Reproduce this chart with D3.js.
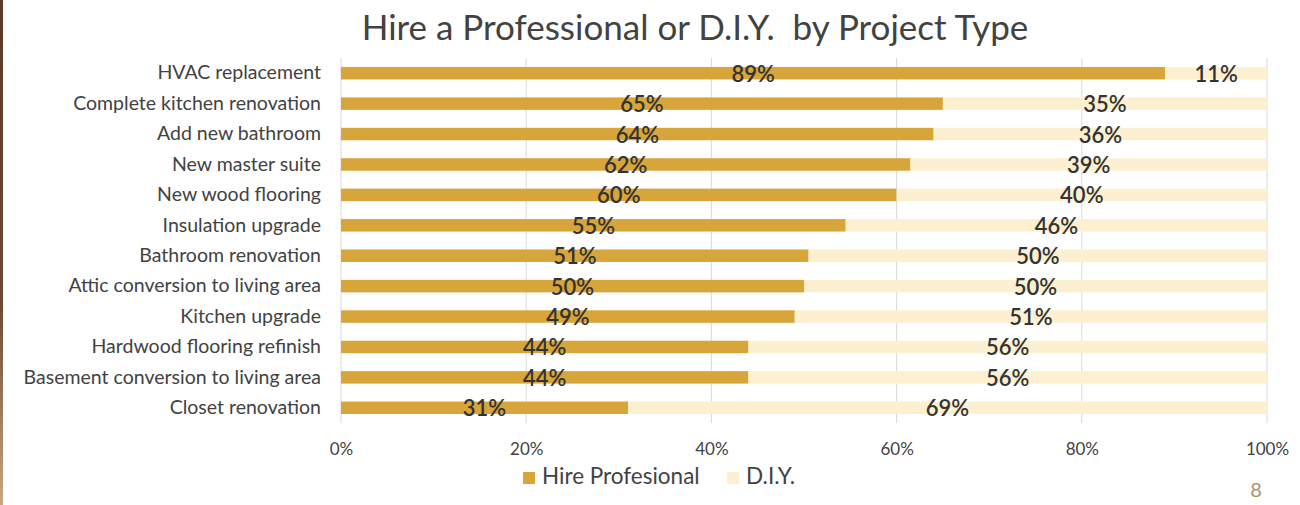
<!DOCTYPE html>
<html>
<head>
<meta charset="utf-8">
<script src="https://cdn.jsdelivr.net/npm/d3@7"></script>
<style>
  html, body { margin: 0; padding: 0; background: #ffffff; }
  svg { display: block; }
  text { font-family: "Lato", "Noto Sans", sans-serif; }
</style>
</head>
<body>
<svg id="chart" width="1300" height="505"></svg>
<script>
const categories = [
  "HVAC replacement",
  "Complete kitchen renovation",
  "Add new bathroom",
  "New master suite",
  "New wood flooring",
  "Insulation upgrade",
  "Bathroom renovation",
  "Attic conversion to living area",
  "Kitchen upgrade",
  "Hardwood flooring refinish",
  "Basement conversion to living area",
  "Closet renovation"
];
const hireValues = [89, 65, 64, 61.5, 60, 54.5, 50.5, 50, 49, 44, 44, 31];
const diyValues  = [11, 35, 36, 38.5, 40, 45.5, 49.5, 50, 51, 56, 56, 69];
const seriesNames = ["Hire Profesional", "D.I.Y."];
const tickValues = [0, 20, 40, 60, 80, 100];
const titleText = "Hire a Professional or D.I.Y.  by Project Type";
const pageNumber = "8";

const colors = { hire: "#D8A53A", diy: "#FCF0D1" };
const textColor = "#424242";

const svg = d3.select("#chart");
const margin = { left: 341, right: 33, top: 58, bottom: 82 };
const W = 1300, H = 505;

// slide edge decoration
const grad = svg.append("defs").append("linearGradient")
  .attr("id", "edge").attr("x1", 0).attr("x2", 0).attr("y1", 0).attr("y2", 1);
grad.append("stop").attr("offset", "0%").attr("stop-color", "#5a3a2a");
grad.append("stop").attr("offset", "60%").attr("stop-color", "#6b4a35");
grad.append("stop").attr("offset", "100%").attr("stop-color", "#c9a684");
svg.append("rect").attr("x", 0).attr("y", 0).attr("width", 3).attr("height", H)
  .attr("fill", "url(#edge)");

const x = d3.scaleLinear().domain([0, 100]).range([margin.left, W - margin.right]);
const y = d3.scaleBand().domain(categories)
  .range([margin.top, H - margin.bottom])
  .paddingInner(0.59).paddingOuter(0.295);

// title
svg.append("text")
  .attr("x", 695).attr("y", 40)
  .attr("text-anchor", "middle")
  .attr("font-size", 35)
  .attr("fill", textColor)
  .style("white-space", "pre")
  .attr("xml:space", "preserve")
  .text(titleText);

// gridlines
svg.append("g").selectAll("line")
  .data(tickValues)
  .join("line")
  .attr("x1", d => x(d)).attr("x2", d => x(d))
  .attr("y1", margin.top).attr("y2", H - margin.bottom)
  .attr("stroke", "#d9d9d9").attr("stroke-width", 1);

// x axis labels
const xAxis = d3.axisBottom(x).tickValues(tickValues).tickFormat(d => d + "%").tickSize(0).tickPadding(0);
const gx = svg.append("g").attr("transform", `translate(0,${H - margin.bottom})`).call(xAxis);
gx.select(".domain").remove();
gx.selectAll("text").attr("font-size", 17).attr("fill", textColor)
  .attr("y", 32).attr("dy", 0)
  .attr("font-family", "Lato, 'Noto Sans', sans-serif");

// y axis labels
const yAxis = d3.axisLeft(y).tickSize(0).tickPadding(20);
const gy = svg.append("g").attr("transform", `translate(${margin.left},0)`).call(yAxis);
gy.select(".domain").remove();
gy.selectAll("text").attr("font-size", 19.5).attr("fill", textColor)
  .attr("font-family", "Lato, 'Noto Sans', sans-serif");

// bars
const rows = categories.map((c, i) => ({ cat: c, hire: hireValues[i], diy: diyValues[i] }));
const bars = svg.append("g");
bars.selectAll("rect.hire").data(rows).join("rect")
  .attr("class", "hire")
  .attr("x", x(0))
  .attr("y", d => y(d.cat))
  .attr("width", d => x(d.hire) - x(0))
  .attr("height", y.bandwidth())
  .attr("fill", colors.hire);
bars.selectAll("rect.diy").data(rows).join("rect")
  .attr("class", "diy")
  .attr("x", d => x(d.hire))
  .attr("y", d => y(d.cat))
  .attr("width", d => x(d.hire + d.diy) - x(d.hire))
  .attr("height", y.bandwidth())
  .attr("fill", colors.diy);

// data labels
const labels = svg.append("g").attr("font-size", 22).attr("fill", "#333333").attr("font-weight", 600);
labels.selectAll("text.h").data(rows).join("text")
  .attr("class", "h")
  .attr("x", d => (x(0) + x(d.hire)) / 2)
  .attr("y", d => y(d.cat) + y.bandwidth() / 2 + 8.5)
  .attr("text-anchor", "middle")
  .text(d => Math.round(d.hire) + "%");
labels.selectAll("text.d").data(rows).join("text")
  .attr("class", "d")
  .attr("x", d => (x(d.hire) + x(d.hire + d.diy)) / 2)
  .attr("y", d => y(d.cat) + y.bandwidth() / 2 + 8.5)
  .attr("text-anchor", "middle")
  .text(d => Math.round(d.diy) + "%");

// legend
const legend = svg.append("g");
const legendItems = [
  { name: seriesNames[0], color: colors.hire, x: 523 },
  { name: seriesNames[1], color: colors.diy, x: 727 }
];
legendItems.forEach(it => {
  legend.append("rect").attr("x", it.x).attr("y", 472).attr("width", 12).attr("height", 12).attr("fill", it.color);
  legend.append("text").attr("x", it.x + 19).attr("y", 484)
    .attr("font-size", 22.5).attr("fill", textColor).text(it.name);
});

// page number
svg.append("text").attr("x", 1256).attr("y", 497).attr("text-anchor", "middle")
  .attr("font-size", 20).attr("fill", "#a89470").text(pageNumber);
</script>
</body>
</html>
